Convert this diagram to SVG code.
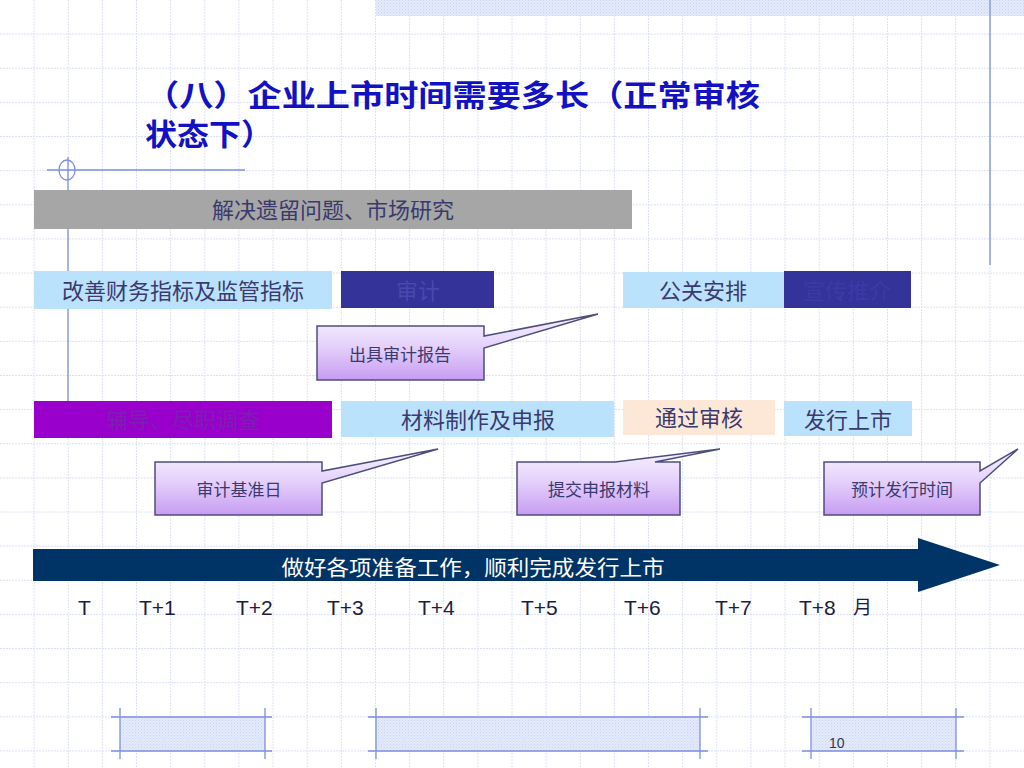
<svg xmlns="http://www.w3.org/2000/svg" width="1024" height="768" viewBox="0 0 1024 768">
<defs>
  <pattern id="dots" width="3" height="3" patternUnits="userSpaceOnUse">
    <rect width="3" height="3" fill="#e4eafc"/>
    <rect width="1" height="1" fill="#c9d5f5"/>
    <rect x="1.5" y="1.5" width="1" height="1" fill="#d3ddf7"/>
  </pattern>
  <linearGradient id="callg" x1="0" y1="0" x2="0" y2="1">
    <stop offset="0" stop-color="#f8f3ff"/>
    <stop offset="0.5" stop-color="#e4d0fb"/>
    <stop offset="1" stop-color="#c79cf2"/>
  </linearGradient>
  <style>
    .grid{stroke:#dde1f4;stroke-width:1;stroke-dasharray:2 1;fill:none}
    .deco{stroke:#7f8fdc;stroke-width:1.3;fill:none}
    .band{fill:url(#dots)}
    .lb{fill:#bbe2fd}
    .navy{fill:#333399}
    .cjk{font-family:"Noto Sans CJK SC","Noto Sans CJK JP",sans-serif}
    .bt{font-size:22px;fill:#3a3a6e;text-anchor:middle}
    .call{fill:url(#callg);stroke:#4e4e7e;stroke-width:1.5;stroke-linejoin:miter}
    .ct{font-size:17px;fill:#3a3a6e;text-anchor:middle}
    .tl{font-family:"Liberation Sans",Arial,sans-serif;font-size:21px;fill:#1c1c44}
  </style>
</defs>
<rect width="1024" height="768" fill="#ffffff"/>
<g id="grid">
  <path class="grid" d="M34.13,0V768M68.27,0V768M102.4,0V768M136.53,0V768M170.67,0V768M204.8,0V768M238.93,0V768M273.07,0V768M307.2,0V768M341.33,0V768M375.47,0V768M409.6,0V768M443.73,0V768M477.87,0V768M512,0V768M546.13,0V768M580.27,0V768M614.4,0V768M648.53,0V768M682.67,0V768M716.8,0V768M750.93,0V768M785.07,0V768M819.2,0V768M853.33,0V768M887.47,0V768M921.6,0V768M955.73,0V768M989.87,0V768"/>
  <path class="grid" d="M0,34.13H1024M0,68.27H1024M0,102.4H1024M0,136.53H1024M0,170.67H1024M0,204.8H1024M0,238.93H1024M0,273.07H1024M0,307.2H1024M0,341.33H1024M0,375.47H1024M0,409.6H1024M0,443.73H1024M0,477.87H1024M0,512H1024M0,546.13H1024M0,580.27H1024M0,614.4H1024M0,648.53H1024M0,682.67H1024M0,716.8H1024M0,750.93H1024"/>
</g>
<g id="decoration">
  <rect class="band" x="376" y="0" width="648" height="16"/>
  <line class="deco" x1="990" y1="0" x2="990" y2="265"/>
  <line class="deco" x1="47" y1="170" x2="245" y2="170"/>
  <line class="deco" x1="68" y1="157" x2="68" y2="402"/>
  <ellipse class="deco" cx="67" cy="170" rx="8" ry="10"/>
  <rect class="band" x="120" y="717" width="145" height="34"/>
  <path class="deco" d="M111,717H272M111,751H272M120,708V759M265,708V759"/>
  <rect class="band" x="376" y="717" width="324" height="34"/>
  <path class="deco" d="M368,717H708M368,751H708M376,708V759M700,708V759"/>
  <rect class="band" x="811" y="717" width="145" height="34"/>
  <path class="deco" d="M802,717H964M802,751H964M811,708V759M956,708V759"/>
  <text x="829" y="748" font-family="Liberation Sans, Arial, sans-serif" font-size="14" fill="#333355">10</text>
</g>
<g id="title" class="cjk" font-weight="bold" font-size="30" fill="#1212c2">
  <text x="145" y="106" textLength="615" lengthAdjust="spacingAndGlyphs">（八）企业上市时间需要多长（正常审核</text>
  <text x="145" y="145" textLength="128" lengthAdjust="spacingAndGlyphs">状态下）</text>
</g>
<g id="node-research">
  <rect x="34" y="190" width="598" height="39" fill="#a6a6a6"/>
  <text class="cjk bt" x="333" y="218" font-size="21">解决遗留问题、市场研究</text>
</g>
<g id="node-finance">
  <rect class="lb" x="34" y="271" width="298" height="38"/>
  <text class="cjk bt" x="183" y="299">改善财务指标及监管指标</text>
</g>
<g id="node-audit">
  <rect class="navy" x="341" y="271" width="153" height="37"/>
  <text class="cjk bt" x="418" y="299" style="fill:#4848ae">审计</text>
</g>
<g id="node-pr">
  <rect class="lb" x="623" y="272" width="161" height="36"/>
  <text class="cjk bt" x="703" y="299">公关安排</text>
</g>
<g id="node-promo">
  <rect class="navy" x="784" y="271" width="127" height="37"/>
  <text class="cjk bt" x="847" y="299" style="fill:#3d3aa6">宣传推介</text>
</g>
<g id="node-tutoring">
  <rect x="34" y="401" width="298" height="37" fill="#9900cc"/>
  <text class="cjk bt" x="183" y="428" style="fill:#7d1eb4">辅导、尽职调查</text>
</g>
<g id="node-material">
  <rect class="lb" x="341" y="401" width="273" height="36"/>
  <text class="cjk bt" x="478" y="428">材料制作及申报</text>
</g>
<g id="node-approve">
  <rect x="623" y="400" width="152" height="35" fill="#fde8d8"/>
  <text class="cjk bt" x="699" y="426">通过审核</text>
</g>
<g id="node-listing">
  <rect class="lb" x="784" y="401" width="128" height="35"/>
  <text class="cjk bt" x="848" y="428">发行上市</text>
</g>
<g id="connectors">
  <g id="callout-report">
    <path class="call" d="M317,326H484V336L598,314L484,348V380H317Z"/>
    <text class="cjk ct" x="400" y="361">出具审计报告</text>
  </g>
  <g id="callout-basedate">
    <path class="call" d="M155,462H322V471L438,449L322,483V515H155Z"/>
    <text class="cjk ct" x="239" y="496">审计基准日</text>
  </g>
  <g id="callout-submit">
    <path class="call" d="M517,462H615L720,449L655,462H680V515H517Z"/>
    <text class="cjk ct" x="599" y="496">提交申报材料</text>
  </g>
  <g id="callout-issue">
    <path class="call" d="M824,462H980V471L1018,449L980,483V515H824Z"/>
    <text class="cjk ct" x="902" y="496">预计发行时间</text>
  </g>
</g>
<g id="timeline">
  <path d="M33,549H918V538L1000,565L918,592V581H33Z" fill="#003366"/>
  <text class="cjk" x="473" y="575" font-size="21" fill="#ffffff" text-anchor="middle" textLength="383" lengthAdjust="spacingAndGlyphs">做好各项准备工作，顺利完成发行上市</text>
  <text class="tl" x="78" y="615">T</text>
  <text class="tl" x="139" y="615">T+1</text>
  <text class="tl" x="236" y="615">T+2</text>
  <text class="tl" x="327" y="615">T+3</text>
  <text class="tl" x="418" y="615">T+4</text>
  <text class="tl" x="521" y="615">T+5</text>
  <text class="tl" x="624" y="615">T+6</text>
  <text class="tl" x="715" y="615">T+7</text>
  <text class="tl" x="799" y="615">T+8</text>
  <text class="cjk" x="853" y="614" font-size="19" fill="#1c1c44">月</text>
</g>
</svg>
